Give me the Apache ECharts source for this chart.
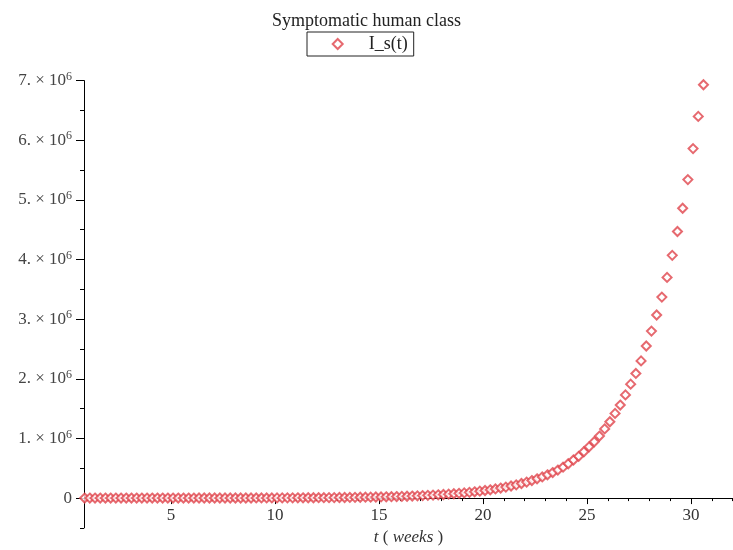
<!DOCTYPE html>
<html>
<head>
<meta charset="utf-8">
<script src="https://cdn.jsdelivr.net/npm/echarts@6/dist/echarts.min.js"></script>
<style>
html,body{margin:0;padding:0;background:#fff;}
#chart{width:733px;height:550px;}
</style>
</head>
<body>
<div id="chart"></div>
<script>
// ---- data ----
const TITLE = 'Symptomatic human class';
const SERIES_NAME = 'I_s(t)';
const T_WEEKS = [
  0.85,1.1,1.35,1.6,1.85,2.1,2.35,2.6,2.85,3.1,
  3.35,3.6,3.85,4.1,4.35,4.6,4.85,5.1,5.35,5.6,
  5.85,6.1,6.35,6.6,6.85,7.1,7.35,7.6,7.85,8.1,
  8.35,8.6,8.85,9.1,9.35,9.6,9.85,10.1,10.35,10.6,
  10.85,11.1,11.35,11.6,11.85,12.1,12.35,12.6,12.85,13.1,
  13.35,13.6,13.85,14.1,14.35,14.6,14.85,15.1,15.35,15.6,
  15.85,16.1,16.35,16.6,16.85,17.1,17.35,17.6,17.85,18.1,
  18.35,18.6,18.85,19.1,19.35,19.6,19.85,20.1,20.35,20.6,
  20.85,21.1,21.35,21.6,21.85,22.1,22.35,22.6,22.85,23.1,
  23.35,23.6,23.85,24.1,24.35,24.6,24.85,25.1,25.35,25.6,
  25.85,26.1,26.35,26.6,26.85,27.1,27.35,27.6,27.85,28.1,
  28.35,28.6,28.85,29.1,29.35,29.6,29.85,30.1,30.35,30.6
];
const I_S = [
  92,100,110,121,133,146,160,175,192,211,
  232,255,280,310,340,370,410,450,490,540,
  590,650,710,780,860,940,1040,1140,1250,1370,
  1510,1660,1820,2000,2200,2400,2650,2950,3200,3550,
  3900,4250,4700,5150,5650,6200,6800,7500,8300,9100,
  10000,11000,12100,13300,14600,16000,17600,19400,21300,23400,
  25700,28300,31100,34200,37600,41400,45500,50000,55000,60000,
  66000,72000,79000,87000,96000,105000,116000,127000,139000,153000,
  168000,184000,202000,222000,244000,268000,294000,323000,355000,390000,
  428000,470000,518000,575000,638000,700000,777000,860000,945000,1040000,
  1160000,1280000,1420000,1560000,1730000,1910000,2090000,2300000,2550000,2800000,
  3070000,3370000,3700000,4070000,4470000,4860000,5340000,5860000,6400000,6930000
];
const X_MAJOR_STEP = 5;
const X_MINOR_STEP = 1;
const Y_MAJOR_STEP = 1000000;
const Y_MINOR_STEP = 500000;
const X_RANGE = [0.82, 32.02];
const Y_RANGE = [-500000, 7000000];
const Y_LABEL_EXP = '6';

// ---- layout ----
const W = 733, H = 550;
const PLOT_L = 84, PLOT_R = 733, PLOT_T = 80.6, PLOT_B = 527.9;
const FONT = "'Liberation Serif', 'DejaVu Serif', serif";
const RED = '#e0434b';
function px(v){ return PLOT_L + (v - X_RANGE[0]) / (X_RANGE[1] - X_RANGE[0]) * (PLOT_R - PLOT_L); }
function py(v){ return PLOT_B - (v - Y_RANGE[0]) / (Y_RANGE[1] - Y_RANGE[0]) * (PLOT_B - PLOT_T); }

const data = T_WEEKS.map((t, i) => [t, I_S[i]]);
const axisLineStyle = {color: '#000', width: 1};
const gridCommon = {containLabel: false, outerBoundsMode: 'none'};
const ZERO_B = H - py(0);

const chart = echarts.init(document.getElementById('chart'), null, {renderer: 'canvas'});
chart.setOption({
  animation: false,
  backgroundColor: '#fff',
  title: {
    text: TITLE, left: 'center', top: 7, padding: 5,
    textStyle: {fontFamily: FONT, fontSize: 18, fontWeight: 'normal', color: '#222'}
  },
  legend: {
    left: 307, top: 32, padding: [3, 6, 3, 24.7],
    borderColor: '#222', borderWidth: 1,
    itemWidth: 10, itemHeight: 10,
    data: [{name: SERIES_NAME, icon: 'diamond'}],
    formatter: function(n){ return '{a|' + n + '}'; },
    textStyle: {fontFamily: FONT, fontSize: 18, color: '#222',
      rich: {a: {fontFamily: FONT, fontSize: 18, color: '#222', padding: [0, 0, 0, 21]}}}
  },
  grid: [
    Object.assign({left: PLOT_L, right: W - PLOT_R, top: PLOT_T, bottom: H - PLOT_B}, gridCommon),
    Object.assign({left: px(1), right: W - PLOT_R, top: PLOT_T, bottom: ZERO_B}, gridCommon),
    Object.assign({left: px(5), right: W - PLOT_R, top: PLOT_T, bottom: ZERO_B}, gridCommon),
    Object.assign({left: PLOT_L, right: W - PLOT_R, top: PLOT_T, bottom: ZERO_B}, gridCommon)
  ],
  xAxis: [
    { gridIndex: 0, type: 'value', min: X_RANGE[0], max: X_RANGE[1],
      axisLine: {show: false, onZero: false}, axisTick: {show: false},
      axisLabel: {show: false}, splitLine: {show: false}
    },
    { gridIndex: 1, type: 'value', min: 1, max: X_RANGE[1], interval: X_MINOR_STEP,
      axisLine: {show: false, onZero: false},
      axisTick: {show: true, length: 3, lineStyle: axisLineStyle},
      axisLabel: {show: false}, splitLine: {show: false}
    },
    { gridIndex: 2, type: 'value', min: 5, max: X_RANGE[1], interval: X_MAJOR_STEP,
      axisLine: {show: false, onZero: false},
      axisTick: {show: true, length: 6, lineStyle: axisLineStyle},
      axisLabel: {show: true, showMaxLabel: false, margin: 9, fontFamily: FONT, fontSize: 17, color: '#333'},
      splitLine: {show: false}
    },
    { gridIndex: 3, type: 'value', min: X_RANGE[0], max: X_RANGE[1],
      axisLine: {show: true, onZero: false, lineStyle: axisLineStyle},
      axisTick: {show: false}, axisLabel: {show: false}, splitLine: {show: false},
      name: '{i|t} ( {i|weeks} )', nameLocation: 'middle', nameGap: 31,
      nameTextStyle: {fontFamily: FONT, fontSize: 17, color: '#333',
        rich: {i: {fontFamily: FONT, fontSize: 17, fontStyle: 'italic', color: '#333'}}}
    }
  ],
  yAxis: [
    { gridIndex: 0, type: 'value', min: Y_RANGE[0], max: Y_RANGE[1], interval: Y_MINOR_STEP,
      axisLine: {show: true, onZero: false, lineStyle: axisLineStyle},
      axisTick: {show: true, length: 4, lineStyle: axisLineStyle},
      axisLabel: {show: false}, splitLine: {show: false}
    },
    { gridIndex: 1, type: 'value', min: 0, max: Y_RANGE[1], interval: Y_MAJOR_STEP, show: false },
    { gridIndex: 2, type: 'value', min: 0, max: Y_RANGE[1], interval: Y_MAJOR_STEP, show: false },
    { gridIndex: 3, type: 'value', min: 0, max: Y_RANGE[1], interval: Y_MAJOR_STEP,
      axisLine: {show: false, onZero: false},
      axisTick: {show: true, length: 8, lineStyle: axisLineStyle},
      splitLine: {show: false},
      axisLabel: {
        show: true, margin: 12, color: '#444',
        formatter: function(v){
          if (v === 0) return '{b|0}';
          return '{b|' + Math.round(v / 1e6) + '. × 10}{s|' + Y_LABEL_EXP + '}';
        },
        rich: {
          b: {fontFamily: FONT, fontSize: 17, color: '#444', lineHeight: 20, verticalAlign: 'middle'},
          s: {fontFamily: FONT, fontSize: 12, color: '#444', lineHeight: 4, verticalAlign: 'top'}
        }
      }
    }
  ],
  series: [{
    name: SERIES_NAME, type: 'scatter', xAxisIndex: 0, yAxisIndex: 0,
    symbol: 'diamond', symbolSize: 9,
    itemStyle: {color: '#ffffff', borderColor: RED, borderWidth: 2},
    data: data, z: 5
  }]
});
</script>
</body>
</html>
